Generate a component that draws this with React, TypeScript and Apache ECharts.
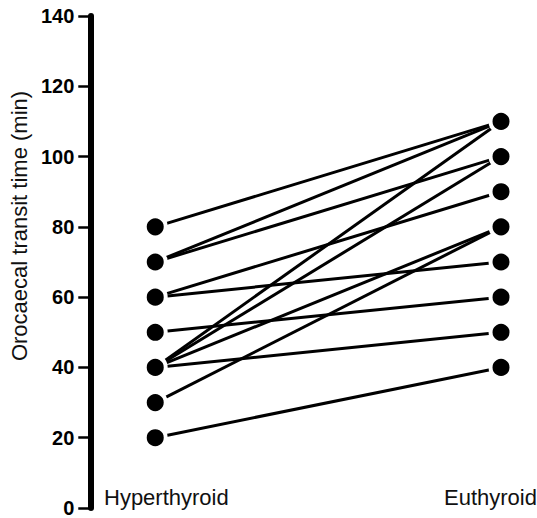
import React, { useEffect, useRef } from "react";
import * as echarts from "echarts";

// Paired observations: orocaecal transit time (min)
const HYPER_VALUES = [80, 70, 70, 60, 60, 50, 40, 40, 40, 40, 30, 20];
const EU_VALUES = [110, 110, 100, 90, 70, 60, 110, 100, 80, 50, 80, 40];
const GROUP_LABELS = ["Hyperthyroid", "Euthyroid"];
const Y_TICKS = [0, 20, 40, 60, 80, 100, 120, 140];
const Y_TITLE = "Orocaecal transit time (min)";

const FONT = '"Liberation Sans", Arial, Helvetica, sans-serif';

export default function App() {
  const ref = useRef<HTMLDivElement>(null);

  useEffect(() => {
    if (!ref.current) return;
    const chart = echarts.init(ref.current, undefined, { renderer: "svg" });

    // grid spans x 90..530 (440px); group 0 at 155px, group 1 at 501px
    const unit = 346;
    const xMin = -65 / unit;
    const xMax = 1 + 29 / unit;

    const lineSeries = HYPER_VALUES.map((h, i) => ({
      type: "line",
      data: [
        [0, h],
        [1, EU_VALUES[i]],
      ],
      symbol: "none",
      lineStyle: { color: "#000", width: 3 },
      z: 2,
      silent: true,
    }));

    const leftDots = Array.from(new Set(HYPER_VALUES)).map((v) => [0, v]);
    const rightDots = Array.from(new Set(EU_VALUES)).map((v) => [1, v]);

    chart.setOption({
      animation: false,
      grid: { left: 90, right: 7, top: 16, bottom: 7 },
      xAxis: {
        type: "value",
        min: xMin,
        max: xMax,
        show: false,
      },
      yAxis: {
        type: "value",
        min: Y_TICKS[0],
        max: Y_TICKS[Y_TICKS.length - 1],
        interval: Y_TICKS[1] - Y_TICKS[0],
        name: Y_TITLE,
        nameLocation: "middle",
        nameRotate: 90,
        nameGap: 60,
        nameTextStyle: {
          fontFamily: FONT,
          fontSize: 22,
          color: "#111",
          padding: [0, 0, 0, 72],
        },
        axisLine: { show: true, onZero: false, lineStyle: { color: "#000", width: 6 } },
        axisTick: { show: true, length: 12, lineStyle: { color: "#000", width: 2.5 } },
        axisLabel: {
          margin: 16,
          fontFamily: FONT,
          fontSize: 20,
          fontWeight: "bold",
          color: "#000",
        },
        splitLine: { show: false },
      },
      series: [
        ...lineSeries,
        {
          type: "scatter",
          data: [...leftDots, ...rightDots],
          symbol: "circle",
          symbolSize: 21,
          itemStyle: { color: "#000", borderColor: "#fff", borderWidth: 4, opacity: 1 },
          clip: false,
          z: 3,
          silent: true,
        },
      ],
      graphic: [
        {
          type: "text",
          left: 104,
          top: 486,
          style: {
            text: GROUP_LABELS[0],
            font: `22px ${FONT}`,
            fill: "#111",
          },
        },
        {
          type: "text",
          left: 444,
          top: 486,
          style: {
            text: GROUP_LABELS[1],
            font: `22px ${FONT}`,
            fill: "#111",
          },
        },
      ],
    });

    return () => chart.dispose();
  }, []);

  return (
    <div
      ref={ref}
      style={{ position: "absolute", left: 0, top: 0, width: 537, height: 518 }}
    />
  );
}
